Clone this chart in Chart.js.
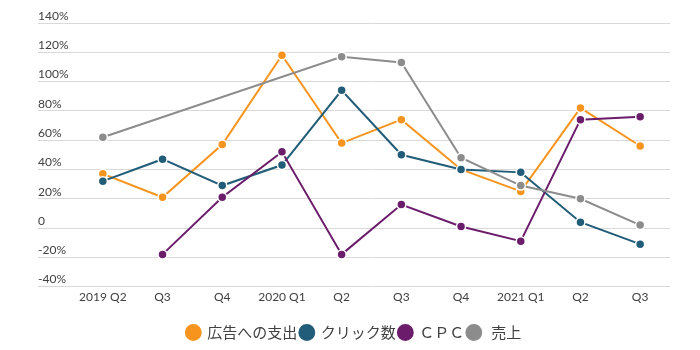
<!DOCTYPE html>
<html lang="ja">
<head>
  <meta charset="UTF-8">
  <title>広告指標の推移</title>
  <script src="https://cdn.jsdelivr.net/npm/chart.js@4.4.1/dist/chart.umd.min.js"></script>
  <style>
    html, body {
      margin: 0;
      padding: 0;
      background: #fff;
    }
    .wrap {
      width: 700px;
      height: 350px;
    }
  </style>
</head>
<body>
  <div class="wrap">
    <canvas id="growthChart"></canvas>
  </div>

  <script>
    // 四半期ラベル
    const quarters = ['2019 Q2', 'Q3', 'Q4', '2020 Q1', 'Q2', 'Q3', 'Q4', '2021 Q1', 'Q2', 'Q3'];

    // 各系列の値 (%)
    const adSpend = [37, 21, 57, 118, 58, 74, 40, 25, 82, 56];
    const clicks  = [32, 47, 29, 43, 94, 50, 40, 38, 4, -11];
    const cpc     = [null, -18, 21, 52, -18, 16, 1, -9, 74, 76];
    const sales   = [62, null, null, null, 117, 113, 48, 29, 20, 2];

    // 縦軸の目盛りラベル
    const yTickLabels = ['-40%', '-20%', '0', '20%', '40%', '60%', '80%', '100%', '120%', '140%'];

    const textColor = '#404040';
    const gridColor = '#d9d9d9';

    function series(label, data, color) {
      return {
        label: label,
        data: data,
        borderColor: color,
        backgroundColor: color,
        borderWidth: 2,
        pointRadius: 4.5,
        pointHoverRadius: 4.5,
        pointBackgroundColor: color,
        pointBorderColor: '#ffffff',
        pointBorderWidth: 1.5,
        tension: 0,
        spanGaps: true
      };
    }

    // 売上を一番上に描くため逆順で登録し、凡例は reverse で戻す
    new Chart(document.getElementById('growthChart'), {
      type: 'line',
      data: {
        labels: quarters,
        datasets: [
          series(' 売上', sales, '#8c8c8c'),
          series('ＣＰＣ', cpc, '#6b1c6b'),
          series('クリック数', clicks, '#215d78'),
          series('広告への支出', adSpend, '#f7941d')
        ]
      },
      options: {
        responsive: true,
        maintainAspectRatio: false,
        animation: false,
        layout: {
          padding: { left: 38, right: 30, top: 23, bottom: 0 }
        },
        plugins: {
          tooltip: { enabled: false },
          legend: {
            position: 'bottom',
            reverse: true,
            labels: {
              usePointStyle: true,
              pointStyle: 'circle',
              boxWidth: 13,
              boxHeight: 13,
              padding: 3,
              color: textColor,
              font: { family: '"Noto Sans CJK JP", sans-serif', size: 15 }
            }
          }
        },
        scales: {
          x: {
            offset: true,
            afterFit: function (scale) { scale.height += 15; },
            grid: { display: false, drawTicks: false },
            border: { display: false },
            ticks: {
              color: textColor,
              maxRotation: 0,
              autoSkip: false,
              padding: 3,
              font: { family: 'Lato, sans-serif', size: 12 }
            }
          },
          y: {
            min: -40,
            max: 140,
            afterFit: function (scale) { scale.width = 35; },
            border: { display: false },
            grid: {
              color: gridColor,
              lineWidth: 1,
              drawTicks: true,
              tickLength: 35,
              tickColor: gridColor
            },
            ticks: {
              stepSize: 20,
              color: textColor,
              crossAlign: 'far',
              labelOffset: -7,
              font: { family: 'Lato, sans-serif', size: 12 },
              callback: function (value, index) { return yTickLabels[index]; }
            }
          }
        }
      }
    });
  </script>
</body>
</html>
